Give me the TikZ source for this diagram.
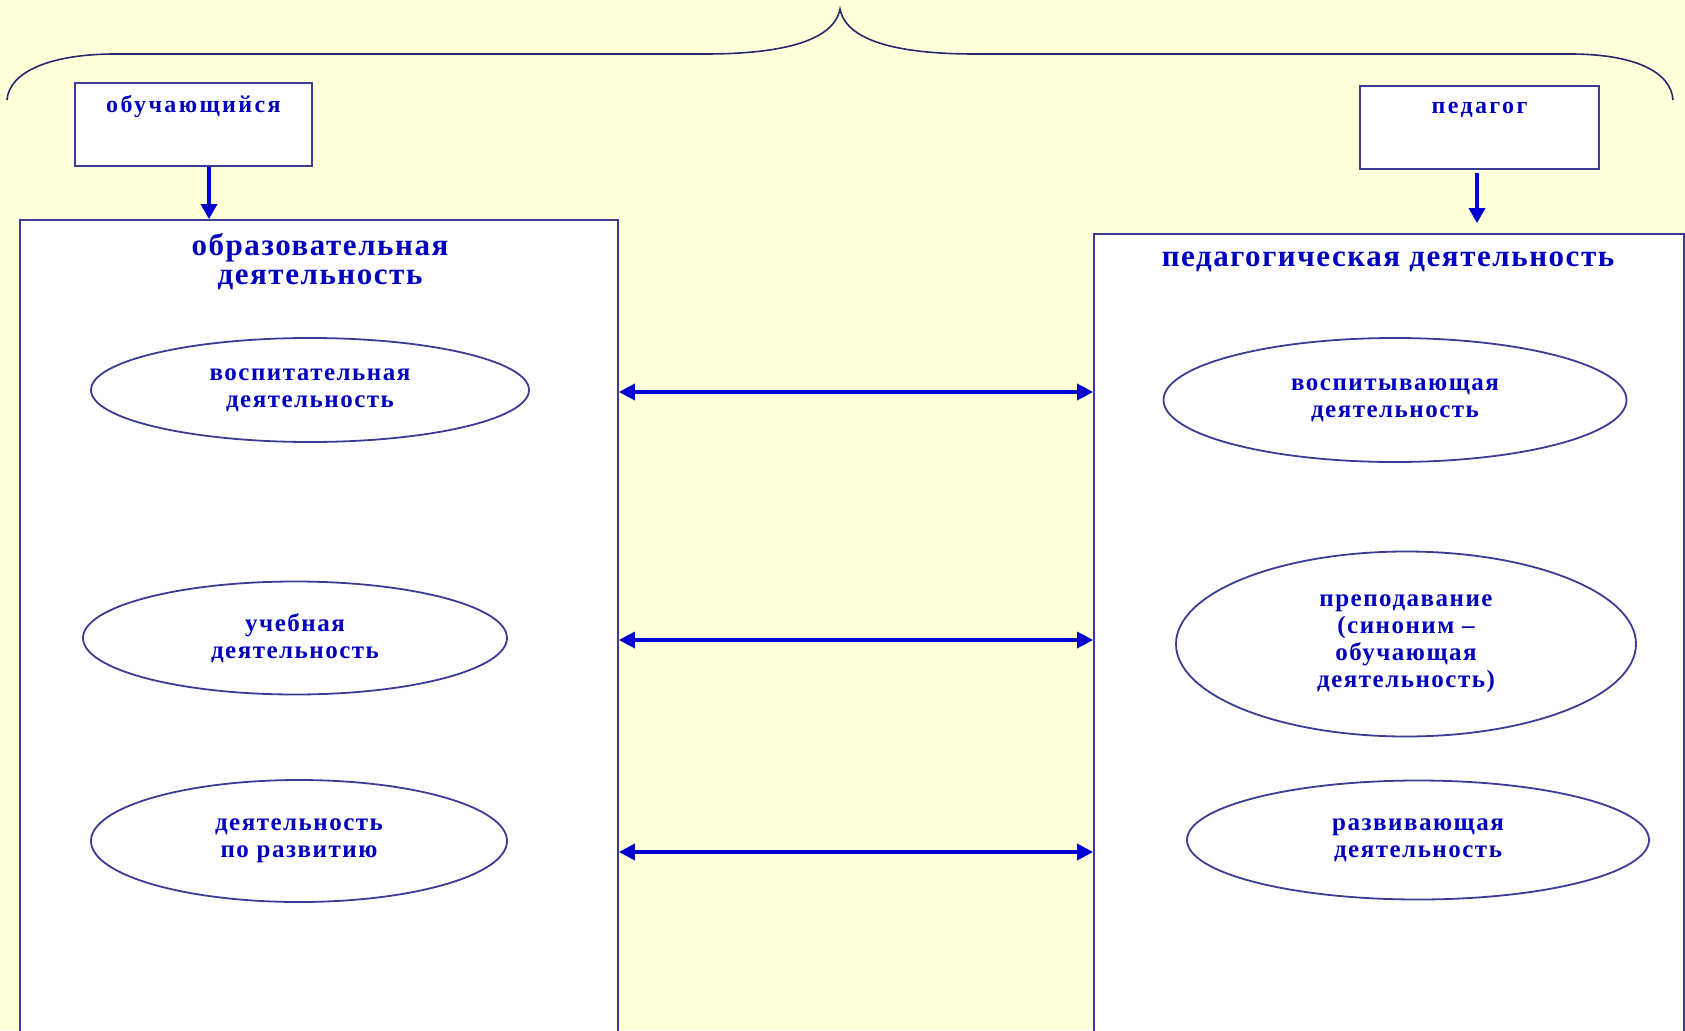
\documentclass[tikz,border=0pt]{standalone}
\usepackage{fontspec}
\setmainfont{Liberation Serif}
\usetikzlibrary{arrows.meta,shapes.geometric}
\definecolor{bg}{RGB}{255,255,217}
\definecolor{txt}{RGB}{0,0,190}
\definecolor{edgec}{RGB}{60,60,150}
\definecolor{arrc}{RGB}{0,0,210}
\definecolor{bracec}{RGB}{40,40,110}
\begin{document}
\begin{tikzpicture}[x=1pt,y=-1pt,
  box/.style={draw=edgec, line width=1.8pt, fill=white, rectangle, inner sep=0pt},
  oval/.style={ellipse, draw=edgec, line width=1.8pt, fill=white, inner sep=0pt, align=center, text=txt,
    font=\fontsize{25}{27}\selectfont\bfseries\addfontfeatures{LetterSpace=6}},
  ttl/.style={text=txt, align=center, inner sep=0pt,
    font=\fontsize{31}{29}\selectfont\bfseries\addfontfeatures{LetterSpace=5}},
  lbl/.style={text=txt, align=center, inner sep=0pt,
    font=\fontsize{24}{27}\selectfont\bfseries\addfontfeatures{LetterSpace=10}},
  darr/.style={draw=arrc, line width=3.4pt, {Triangle[length=16pt,width=16pt]}-{Triangle[length=16pt,width=16pt]}},
  sarr/.style={draw=arrc, line width=3.4pt, -{Triangle[length=15pt,width=16pt]}},
  bracestyle/.style={draw=bracec, line width=1.6pt}
]
\useasboundingbox (0,0) rectangle (1685,1030);
\fill[bg] (0,0) rectangle (1685,1030);
\clip (0,0) rectangle (1685,1030);

% brace
\draw[bracestyle] (7,100) .. controls (9,72) and (50,54) .. (115,54) -- (705,54)
  .. controls (785,54) and (834,40) .. (840,9)
  .. controls (846,40) and (895,54) .. (975,54) -- (1570,54)
  .. controls (1635,54) and (1671,72) .. (1673,100);

% top boxes
\node[box, minimum width=237pt, minimum height=83pt] (stud) at (193.5,124.5) {};
\node[lbl] (studtxt) at (193.5,107) {обучающийся};
\node[box, minimum width=239pt, minimum height=83pt] (ped) at (1479.5,127.5) {};
\node[lbl] (pedtxt) at (1479.5,110) {педагог};

% big boxes
\node[box, minimum width=598pt, minimum height=830pt] (lbox) at (319,635) {};
\node[ttl] (ltitle) at (320,261.5) {образовательная\\деятельность};
\node[box, minimum width=590pt, minimum height=820pt] (rbox) at (1389,644) {};
\node[ttl] (rtitle) at (1388,262) {педагогическая деятельность};

% arrows down
\draw[sarr] (209,0 |- stud.south) -- (209,0 |- lbox.north);
\draw[sarr, shorten <=3pt, shorten >=10pt] (1477,0 |- ped.south) -- (1477,0 |- rbox.north);

% left ellipses
\node[oval, minimum width=438pt, minimum height=104pt] (e1) at (310,390) {воспитательная\\деятельность};
\node[oval, minimum width=424pt, minimum height=113pt] (e2) at (295,638) {учебная\\деятельность};
\node[oval, minimum width=416pt, minimum height=122pt] (e3) at (299,841) {деятельность\\по развитию};

% right ellipses
\node[oval, minimum width=463pt, minimum height=124pt] (r1) at (1395,400) {воспитывающая\\деятельность};
\node[oval, minimum width=460pt, minimum height=185pt] (r2) at (1406,644) {преподавание\\(синоним –\\обучающая\\деятельность)};
\node[oval, minimum width=462pt, minimum height=119pt] (r3) at (1418,840) {развивающая\\деятельность};

% double arrows
\draw[darr] (lbox.east |- 0,392) -- (rbox.west |- 0,392);
\draw[darr] (lbox.east |- 0,640) -- (rbox.west |- 0,640);
\draw[darr] (lbox.east |- 0,852) -- (rbox.west |- 0,852);
\end{tikzpicture}
\end{document}
